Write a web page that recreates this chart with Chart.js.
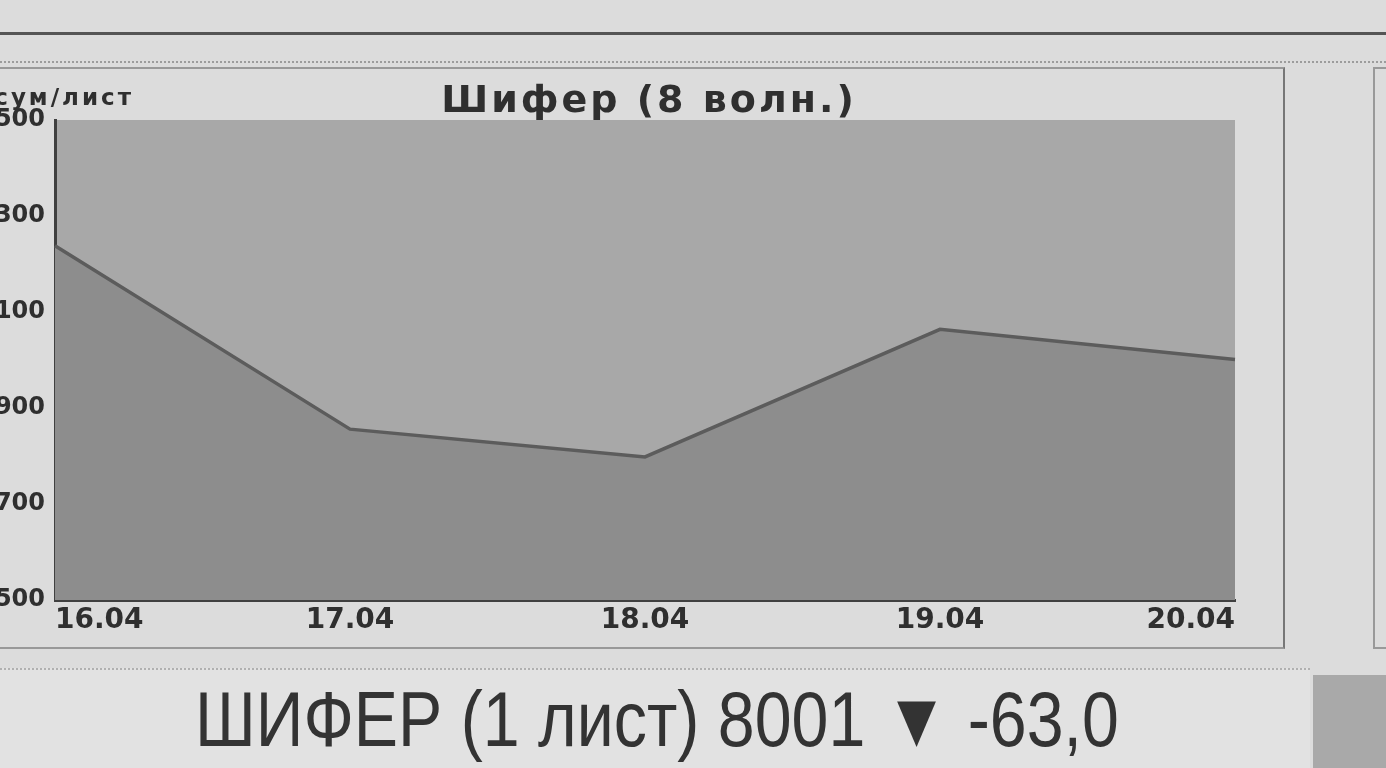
<!DOCTYPE html>
<html lang="ru">
<head>
<meta charset="utf-8">
<title>Шифер (8 волн.)</title>
<script src="https://cdn.jsdelivr.net/npm/chart.js@4.4.1/dist/chart.umd.min.js"></script>
<style>
  html, body { margin: 0; padding: 0; }
  body {
    width: 1386px; height: 768px; overflow: hidden; position: relative;
    background: #dcdcdc; font-family: "DejaVu Sans", sans-serif;
  }
  .rule-top { position: absolute; left: 0; top: 32px; width: 1386px; height: 0; border-top: 3px solid #555; }
  .rule-dots { position: absolute; left: 0; top: 61px; width: 1386px; height: 0; border-top: 2px dotted #9c9c9c; }
  .frame { position: absolute; left: -10px; top: 67px; width: 1291px; height: 578px; border: 2px solid #999; border-right-color: #777; }
  .frame-next { position: absolute; left: 1373px; top: 67px; width: 100px; height: 578px; border: 2px solid #999; }
  .chart-box { position: absolute; left: -60px; top: 70px; width: 1340px; height: 575px; }
  .ticker {
    position: absolute; left: 0; top: 668px; width: 1310px; height: 100px;
    background: #e2e2e2; border-top: 2px dotted #b0b0b0;
  }
  .ticker span {
    position: absolute; left: 195px; top: 4px; white-space: nowrap;
    font-family: "Liberation Sans Narrow", "Liberation Sans", sans-serif;
    font-size: 78px; color: #333; transform: scaleX(0.85); transform-origin: left top;
  }
  .block { position: absolute; left: 1313px; top: 675px; width: 73px; height: 93px; background: #a9a9a9; }
</style>
</head>
<body>
<div class="rule-top"></div>
<div class="rule-dots"></div>
<div class="frame"></div>
<div class="frame-next"></div>
<div class="chart-box"><canvas id="chart"></canvas></div>
<div class="ticker"><span>ШИФЕР (1 лист) 8001 ▼ -63,0</span></div>
<div class="block"></div>

<script>
  // данные графика
  const dates = ['16.04', '17.04', '18.04', '19.04', '20.04'];
  const prices = [8238, 7856, 7798, 8064, 8001];
  const yTicks = [7500, 7700, 7900, 8100, 8300, 8500];
  const chartTitle = 'Шифер (8 волн.)';
  const unitLabel = 'сум/лист';

  const COLORS = {
    plotBg: '#a8a8a8',
    area: '#8d8d8d',
    line: '#5c5c5c',
    axis: '#404040',
    text: '#2f2f2f'
  };

  // фон области графика, заголовок и подпись единиц (широкий жирный шрифт)
  const plotDecor = {
    id: 'plotDecor',
    beforeDraw(chart) {
      const { ctx, chartArea: a } = chart;
      ctx.save();
      ctx.fillStyle = COLORS.plotBg;
      ctx.fillRect(a.left, a.top, a.right - a.left, a.bottom - a.top);
      ctx.restore();
    },
    afterDraw(chart) {
      const { ctx, chartArea: a } = chart;
      ctx.save();
      ctx.fillStyle = COLORS.text;
      ctx.textBaseline = 'alphabetic';

      ctx.font = 'bold 38px "DejaVu Sans"';
      ctx.letterSpacing = '3px';
      ctx.textAlign = 'center';
      ctx.fillText(chartTitle, a.left + 594, a.top - 8);

      ctx.font = 'bold 23px "DejaVu Sans"';
      ctx.letterSpacing = '3px';
      ctx.textAlign = 'right';
      ctx.fillText(unitLabel, a.left + 79, a.top - 15);
      ctx.restore();
    }
  };

  new Chart(document.getElementById('chart'), {
    type: 'line',
    data: {
      labels: dates,
      datasets: [{
        data: prices,
        fill: 'start',
        backgroundColor: COLORS.area,
        borderColor: COLORS.line,
        borderWidth: 3.5,
        pointRadius: 0,
        tension: 0
      }]
    },
    options: {
      responsive: true,
      maintainAspectRatio: false,
      animation: false,
      layout: { padding: { left: 0, right: 45, top: 50, bottom: 0 } },
      plugins: {
        legend: { display: false },
        tooltip: { enabled: false },
        title: { display: false }
      },
      scales: {
        x: {
          offset: false,
          grid: { display: false, drawTicks: false },
          border: { display: true, color: COLORS.axis, width: 3 },
          ticks: {
            align: 'inner',
            maxRotation: 0,
            padding: 4,
            color: COLORS.text,
            font: { family: 'DejaVu Sans', size: 28, weight: 'bold' }
          },
          afterFit(axis) { axis.height = 45; }
        },
        y: {
          min: yTicks[0],
          max: yTicks[yTicks.length - 1],
          afterBuildTicks(axis) { axis.ticks = yTicks.map(v => ({ value: v })); },
          grid: { display: false, drawTicks: false },
          border: { display: true, color: COLORS.axis, width: 3 },
          ticks: {
            padding: 10,
            color: COLORS.text,
            font: { family: 'DejaVu Sans', size: 24, weight: 'bold' }
          },
          afterFit(axis) { axis.width = 115; }
        }
      }
    },
    plugins: [plotDecor]
  });
</script>
</body>
</html>
